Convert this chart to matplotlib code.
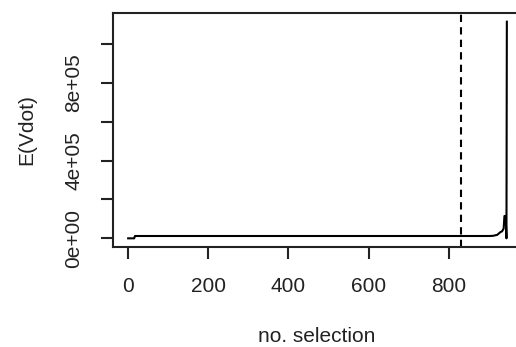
import matplotlib
matplotlib.use("Agg")
import matplotlib.pyplot as plt

plt.rcParams['font.family'] = ['Liberation Sans', 'DejaVu Sans']

# expected Vdot against number of selected items
n_sel = [1, 16, 18, 900, 910, 920, 928, 932, 936, 938, 941, 943, 944]
e_vdot = [0, 0, 1.2e4, 1.2e4, 1.3e4, 1.8e4, 3.2e4, 3.6e4, 5.0e4, 1.15e5, 1.15e5, 0, 1.115e6]
cutoff = 830

y_ticks = [0, 2e5, 4e5, 6e5, 8e5, 1e6]
y_labels = ['0e+00', '', '4e+05', '', '8e+05', '']
x_ticks = [0, 200, 400, 600, 800]

W, H = 516, 347
fig = plt.figure(figsize=(W / 100, H / 100), dpi=100)
# plot region like R's default par(mar), right edge runs off the device
ax = fig.add_axes([113 / W, (H - 247) / H, 409 / W, 234 / H])

ax.plot(n_sel, e_vdot, color='black', lw=1.5)
ax.axvline(cutoff, color='black', lw=1.5, linestyle=(0, (3.5, 2.5)))

# R pads the data range by 4% each side
xr = max(n_sel) - min(n_sel)
yr = max(e_vdot) - min(e_vdot)
ax.set_xlim(min(n_sel) - 0.04 * xr, max(n_sel) + 0.04 * xr)
ax.set_ylim(min(e_vdot) - 0.04 * yr, max(e_vdot) + 0.04 * yr)

ax.set_xticks(x_ticks)
ax.set_xticklabels([str(t) for t in x_ticks])
ax.set_yticks(y_ticks)
ax.set_yticklabels(y_labels, rotation=90, va='center')

ax.tick_params(axis='both', length=8.6, width=1.5, labelsize=15, colors='#222222', pad=13)
for s in ax.spines.values():
    s.set_linewidth(1.5)
    s.set_color('#222222')

fig.text(317 / W, 1 - 337 / H, 'no. selection', ha='center', va='center',
         fontsize=15, color='#222222')
fig.text(27 / W, 1 - 130 / H, 'E(Vdot)', ha='center', va='center',
         rotation=90, fontsize=15, color='#222222')

fig.savefig('out.png', dpi=100)
